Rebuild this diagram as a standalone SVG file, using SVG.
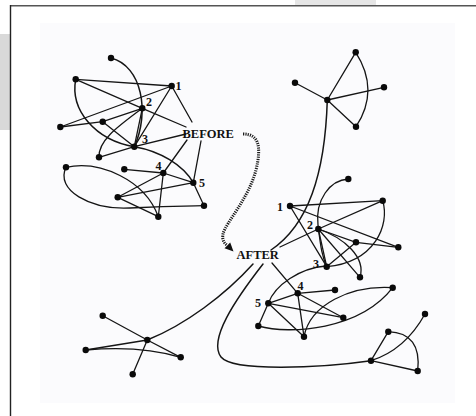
<svg xmlns="http://www.w3.org/2000/svg" width="476" height="416" viewBox="0 0 476 416">
  <style>
    .e { fill: none; stroke: #151515; stroke-width: 1.3; stroke-linecap: round; }
    .c { fill: none; stroke: #151515; stroke-width: 1.5; stroke-linecap: round; }
    .n { fill: #0a0a0a; }
    .lbl { font-family: "Liberation Serif", "Times New Roman", serif; font-weight: bold; fill: #111; }
    .num { font-size: 12px; }
    .big { font-size: 12.5px; }
    .dot { fill: none; stroke: #1a1a1a; stroke-width: 3; stroke-dasharray: 1.2 1.1; }
    .head { fill: #111; }
  </style>

  <!-- page and frame -->
  <rect x="0" y="0" width="476" height="416" fill="#ffffff"/>
  <rect x="0" y="34" width="10" height="96" fill="#d9d9d9"/>
  <rect x="295" y="0" width="81" height="5" fill="#e6e6e6"/>
  <rect x="40" y="23" width="415" height="380" fill="#fbfbfd"/>
  <line x1="10" y1="5.8" x2="476" y2="5.8" stroke="#555" stroke-width="1.4"/>
  <line x1="10.5" y1="5" x2="10.5" y2="416" stroke="#222" stroke-width="1.4"/>

  <g id="connectors">
    <!-- BEFORE network -->
    <path class="c" d="M111,58 C142,66 150,112 134.3,146.7"/>
    <path class="c" d="M75.7,79.3 C70,110 95,140 134.3,146.7 C160,151 183,165 193.3,182.7"/>
    <line class="e" x1="75.7" y1="79.3" x2="171.7" y2="86"/>
    <line class="e" x1="75.7" y1="79.3" x2="142.3" y2="108.3"/>
    <line class="e" x1="142.3" y1="108.3" x2="186" y2="127"/>
    <line class="e" x1="60.3" y1="127" x2="171.7" y2="86"/>
    <line class="e" x1="60.3" y1="127" x2="102.7" y2="121.7"/>
    <line class="e" x1="102.7" y1="121.7" x2="142.3" y2="108.3"/>
    <line class="e" x1="102.7" y1="121.7" x2="134.3" y2="146.7"/>
    <line class="e" x1="142.3" y1="108.3" x2="134.3" y2="146.7"/>
    <line class="e" x1="134.3" y1="146.7" x2="171.7" y2="86"/>
    <path class="e" d="M99,157.3 C98,140 120,125 142.3,108.3"/>
    <line class="e" x1="99" y1="157.3" x2="134.3" y2="146.7"/>
    <line class="e" x1="171.7" y1="86" x2="192" y2="122"/>
    <line class="e" x1="134.3" y1="146.7" x2="186" y2="134"/>
    <line class="e" x1="163.3" y1="173" x2="187" y2="140"/>
    <line class="e" x1="193.3" y1="182.7" x2="201" y2="141"/>
    <line class="e" x1="124.3" y1="169.3" x2="163.3" y2="173"/>
    <line class="e" x1="163.3" y1="173" x2="193.3" y2="182.7"/>
    <line class="e" x1="163.3" y1="173" x2="117.7" y2="197.3"/>
    <line class="e" x1="163.3" y1="173" x2="158.3" y2="216.7"/>
    <line class="e" x1="117.7" y1="197.3" x2="193.3" y2="182.7"/>
    <line class="e" x1="117.7" y1="197.3" x2="158.3" y2="216.7"/>
    <line class="e" x1="193.3" y1="182.7" x2="204" y2="205.7"/>
    <path class="e" d="M66,167.3 C100,160 145,180 158.3,216.7"/>
    <path class="e" d="M66,167.3 C55,190 90,210 130,208 S190,206 204,205.7"/>

    <!-- BEFORE to AFTER: dotted curve with a solid head -->
    <path class="dot" d="M243,134 C258,134 262,145 256,170 C248,200 226,222 223,234 C222,240 224,243 227.3,245.3"/>
    <polygon class="head" points="233.5,251.5 224.5,248.2 230.2,242.5"/>

    <!-- top right star -->
    <line class="e" x1="327.3" y1="100" x2="355.7" y2="52.3"/>
    <line class="e" x1="327.3" y1="100" x2="295" y2="82.7"/>
    <line class="e" x1="327.3" y1="100" x2="384" y2="87.3"/>
    <line class="e" x1="327.3" y1="100" x2="356" y2="126.7"/>
    <path class="e" d="M355.7,52.3 Q380,90 356,126.7"/>
    <path class="c" d="M327.3,100 C325,175 308,225 271,250"/>

    <!-- AFTER network -->
    <line class="e" x1="280" y1="247" x2="318.3" y2="229"/>
    <line class="e" x1="272" y1="263" x2="297.7" y2="293.3"/>
    <path class="c" d="M253,264 C225,295 185,325 147.3,340"/>
    <path class="c" d="M263,264 C235,300 208,340 221,357 C233,372 320,368 371,360.7"/>

    <line class="e" x1="290" y1="206" x2="382.7" y2="200.7"/>
    <line class="e" x1="290" y1="206" x2="398.3" y2="247.3"/>
    <line class="e" x1="290" y1="206" x2="326.7" y2="266.7"/>
    <line class="e" x1="318.3" y1="229" x2="382.7" y2="200.7"/>
    <line class="e" x1="318.3" y1="229" x2="356" y2="242.3"/>
    <line class="e" x1="318.3" y1="229" x2="326.7" y2="266.7"/>
    <line class="e" x1="318.3" y1="229" x2="360" y2="277.3"/>
    <line class="e" x1="326.7" y1="266.7" x2="356" y2="242.3"/>
    <line class="e" x1="356" y1="242.3" x2="398.3" y2="247.3"/>
    <path class="e" d="M348.3,179 C330,180 315,200 318,225 S322,255 326.7,266.7"/>
    <path class="e" d="M382.7,200.7 C390,225 375,262 326.7,266.7"/>
    <path class="e" d="M318.3,229 C345,238 366,258 360,277.3"/>

    <line class="e" x1="297.7" y1="293.3" x2="335" y2="290"/>
    <line class="e" x1="297.7" y1="293.3" x2="268.3" y2="303.3"/>
    <line class="e" x1="297.7" y1="293.3" x2="304" y2="336.7"/>
    <line class="e" x1="268.3" y1="303.3" x2="343.3" y2="317.7"/>
    <line class="e" x1="268.3" y1="303.3" x2="304" y2="336.7"/>
    <line class="e" x1="297.7" y1="293.3" x2="343.3" y2="317.7"/>
    <line class="e" x1="258.3" y1="326" x2="268.3" y2="303.3"/>
    <path class="e" d="M268.3,303.3 C275,285 300,268 326,266"/>
    <path class="e" d="M258.3,326 C290,335 360,330 392.7,287.7"/>
    <path class="e" d="M304,336.7 C310,305 350,285 392.7,287.7"/>

    <!-- bottom left star -->
    <line class="e" x1="102.7" y1="315.7" x2="147.3" y2="340"/>
    <line class="e" x1="147.3" y1="340" x2="180.7" y2="357.3"/>
    <line class="e" x1="85.7" y1="350" x2="147.3" y2="340"/>
    <line class="e" x1="147.3" y1="340" x2="132.7" y2="374.3"/>
    <path class="e" d="M85.7,350 Q140,345 180.7,357.3"/>

    <!-- bottom right star -->
    <line class="e" x1="371" y1="360.7" x2="388.3" y2="331.7"/>
    <line class="e" x1="371" y1="360.7" x2="417.7" y2="371"/>
    <path class="e" d="M371,360.7 Q405,350 425,314"/>
    <path class="e" d="M388.3,331.7 Q422,333 417.7,371"/>
  </g>

  <!-- BEFORE network nodes -->
  <g id="b-top"><circle class="n" cx="111" cy="58" r="3.2"/></g>
  <g id="b-a"><circle class="n" cx="75.7" cy="79.3" r="3.2"/></g>
  <g id="b-1"><circle class="n" cx="171.7" cy="86" r="3.2"/><text class="lbl num" x="175.5" y="90">1</text></g>
  <g id="b-2"><circle class="n" cx="142.3" cy="108.3" r="3.2"/><text class="lbl num" x="146" y="106">2</text></g>
  <g id="b-b"><circle class="n" cx="60.3" cy="127" r="3.2"/></g>
  <g id="b-c"><circle class="n" cx="102.7" cy="121.7" r="3.2"/></g>
  <g id="b-3"><circle class="n" cx="134.3" cy="146.7" r="3.2"/><text class="lbl num" x="142" y="143">3</text></g>
  <g id="b-d"><circle class="n" cx="99" cy="157.3" r="3.2"/></g>
  <g id="b-e"><circle class="n" cx="66" cy="167.3" r="3.2"/></g>
  <g id="b-f"><circle class="n" cx="124.3" cy="169.3" r="3.2"/></g>
  <g id="b-4"><circle class="n" cx="163.3" cy="173" r="3.2"/><text class="lbl num" x="155.5" y="170">4</text></g>
  <g id="b-5"><circle class="n" cx="193.3" cy="182.7" r="3.2"/><text class="lbl num" x="199" y="187">5</text></g>
  <g id="b-g"><circle class="n" cx="117.7" cy="197.3" r="3.2"/></g>
  <g id="b-h"><circle class="n" cx="204" cy="205.7" r="3.2"/></g>
  <g id="b-i"><circle class="n" cx="158.3" cy="216.7" r="3.2"/></g>
  <g id="before"><text class="lbl big" x="182.5" y="138">BEFORE</text></g>

  <!-- top right star nodes -->
  <g id="t-top"><circle class="n" cx="355.7" cy="52.3" r="3.2"/></g>
  <g id="t-left"><circle class="n" cx="295" cy="82.7" r="3.2"/></g>
  <g id="t-right"><circle class="n" cx="384" cy="87.3" r="3.2"/></g>
  <g id="t-center"><circle class="n" cx="327.3" cy="100" r="3.2"/></g>
  <g id="t-bottom"><circle class="n" cx="356" cy="126.7" r="3.2"/></g>

  <!-- AFTER network nodes -->
  <g id="after"><text class="lbl big" x="236.5" y="259">AFTER</text></g>
  <g id="a-top"><circle class="n" cx="348.3" cy="179" r="3.2"/></g>
  <g id="a-1"><circle class="n" cx="290" cy="206" r="3.2"/><text class="lbl num" x="277" y="211">1</text></g>
  <g id="a-rt"><circle class="n" cx="382.7" cy="200.7" r="3.2"/></g>
  <g id="a-2"><circle class="n" cx="318.3" cy="229" r="3.2"/><text class="lbl num" x="307" y="229">2</text></g>
  <g id="a-j"><circle class="n" cx="356" cy="242.3" r="3.2"/></g>
  <g id="a-k"><circle class="n" cx="398.3" cy="247.3" r="3.2"/></g>
  <g id="a-3"><circle class="n" cx="326.7" cy="266.7" r="3.2"/><text class="lbl num" x="313" y="268">3</text></g>
  <g id="a-l"><circle class="n" cx="360" cy="277.3" r="3.2"/></g>
  <g id="a-4"><circle class="n" cx="297.7" cy="293.3" r="3.2"/><text class="lbl num" x="297.5" y="290">4</text></g>
  <g id="a-m"><circle class="n" cx="335" cy="290" r="3.2"/></g>
  <g id="a-5"><circle class="n" cx="268.3" cy="303.3" r="3.2"/><text class="lbl num" x="255" y="307">5</text></g>
  <g id="a-n"><circle class="n" cx="392.7" cy="287.7" r="3.2"/></g>
  <g id="a-o"><circle class="n" cx="343.3" cy="317.7" r="3.2"/></g>
  <g id="a-p"><circle class="n" cx="258.3" cy="326" r="3.2"/></g>
  <g id="a-q"><circle class="n" cx="304" cy="336.7" r="3.2"/></g>

  <!-- bottom left star nodes -->
  <g id="l-r"><circle class="n" cx="102.7" cy="315.7" r="3.2"/></g>
  <g id="l-center"><circle class="n" cx="147.3" cy="340" r="3.2"/></g>
  <g id="l-s"><circle class="n" cx="85.7" cy="350" r="3.2"/></g>
  <g id="l-t"><circle class="n" cx="180.7" cy="357.3" r="3.2"/></g>
  <g id="l-u"><circle class="n" cx="132.7" cy="374.3" r="3.2"/></g>

  <!-- bottom right star nodes -->
  <g id="r-v"><circle class="n" cx="388.3" cy="331.7" r="3.2"/></g>
  <g id="r-w"><circle class="n" cx="425" cy="314" r="3.2"/></g>
  <g id="r-center"><circle class="n" cx="371" cy="360.7" r="3.2"/></g>
  <g id="r-x"><circle class="n" cx="417.7" cy="371" r="3.2"/></g>
</svg>
